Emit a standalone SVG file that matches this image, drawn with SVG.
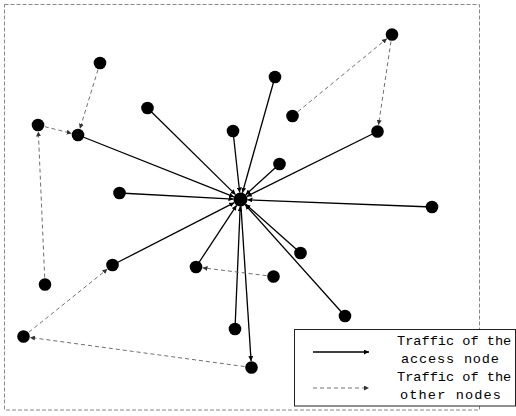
<svg xmlns="http://www.w3.org/2000/svg" width="516" height="416" viewBox="0 0 516 416">
<style>
.node{fill:#000}
.solid{stroke:#000;stroke-width:1.3;fill:none;marker-end:url(#ah)}
.dash{stroke:#707070;stroke-width:1;stroke-dasharray:4 3;fill:none;marker-end:url(#ahd)}
.lg{font-family:"Liberation Mono","DejaVu Sans Mono",monospace;font-size:13.6px;fill:#000}
</style>
<defs>
<marker id="ah" markerUnits="userSpaceOnUse" markerWidth="6" markerHeight="5" refX="5" refY="2.5" orient="auto"><path d="M0,0 L5,2.5 L0,5 z" fill="#000"/></marker>
<marker id="ahd" markerUnits="userSpaceOnUse" markerWidth="6" markerHeight="5" refX="5" refY="2.5" orient="auto"><path d="M0,0 L5,2.5 L0,5 z" fill="#333"/></marker>
</defs>
<rect x="4.5" y="4.5" width="475" height="405.5" fill="none" stroke="#888" stroke-dasharray="4 2"/>
<g id="connectors">
<line class="solid" x1="78" y1="135" x2="234.0" y2="196.9"/>
<line class="solid" x1="147.5" y1="108" x2="235.5" y2="194.6"/>
<line class="solid" x1="275" y1="77" x2="242.4" y2="192.8"/>
<line class="solid" x1="233" y1="131" x2="239.7" y2="192.5"/>
<line class="solid" x1="279.5" y1="164" x2="245.7" y2="194.8"/>
<line class="solid" x1="377.5" y1="131.5" x2="246.8" y2="196.4"/>
<line class="solid" x1="119.5" y1="193" x2="233.5" y2="199.1"/>
<line class="solid" x1="432" y1="207" x2="247.5" y2="199.8"/>
<line class="solid" x1="300.5" y1="253" x2="245.7" y2="204.2"/>
<line class="solid" x1="112.5" y1="265" x2="234.3" y2="202.7"/>
<line class="solid" x1="196" y1="267" x2="236.6" y2="205.3"/>
<line class="solid" x1="345" y1="316" x2="245.2" y2="204.7"/>
<line class="solid" x1="235" y1="329" x2="240.2" y2="206.5"/>
<line class="solid" x1="240.5" y1="199.5" x2="251.1" y2="361.0"/>
<line class="dash" x1="100" y1="63" x2="79.9" y2="128.8"/>
<line class="dash" x1="38" y1="125" x2="71.7" y2="133.4"/>
<line class="dash" x1="45" y1="284.5" x2="38.3" y2="131.5"/>
<line class="dash" x1="292.5" y1="116" x2="387.0" y2="38.6"/>
<line class="dash" x1="392" y1="34.5" x2="378.5" y2="125.1"/>
<line class="dash" x1="273.5" y1="276.5" x2="202.5" y2="267.8"/>
<line class="dash" x1="251.5" y1="367.5" x2="29.9" y2="337.4"/>
<line class="dash" x1="23.5" y1="336.5" x2="107.4" y2="269.1"/>
</g>
<g id="Z"><circle class="node" cx="240.5" cy="199.5" r="7"/></g>
<g id="A"><circle class="node" cx="100" cy="63" r="6.3"/></g>
<g id="B"><circle class="node" cx="38" cy="125" r="6.3"/></g>
<g id="C"><circle class="node" cx="78" cy="135" r="6.3"/></g>
<g id="D"><circle class="node" cx="147.5" cy="108" r="6.3"/></g>
<g id="E"><circle class="node" cx="275" cy="77" r="6.3"/></g>
<g id="F"><circle class="node" cx="233" cy="131" r="6.3"/></g>
<g id="G"><circle class="node" cx="292.5" cy="116" r="6.3"/></g>
<g id="H"><circle class="node" cx="392" cy="34.5" r="6.3"/></g>
<g id="I"><circle class="node" cx="377.5" cy="131.5" r="6.3"/></g>
<g id="J"><circle class="node" cx="279.5" cy="164" r="6.3"/></g>
<g id="K"><circle class="node" cx="119.5" cy="193" r="6.3"/></g>
<g id="L"><circle class="node" cx="432" cy="207" r="6.3"/></g>
<g id="M"><circle class="node" cx="300.5" cy="253" r="6.3"/></g>
<g id="N"><circle class="node" cx="112.5" cy="265" r="6.3"/></g>
<g id="O"><circle class="node" cx="196" cy="267" r="6.3"/></g>
<g id="P"><circle class="node" cx="273.5" cy="276.5" r="6.3"/></g>
<g id="Q"><circle class="node" cx="45" cy="284.5" r="6.3"/></g>
<g id="R"><circle class="node" cx="345" cy="316" r="6.3"/></g>
<g id="S"><circle class="node" cx="235" cy="329" r="6.3"/></g>
<g id="T"><circle class="node" cx="23.5" cy="336.5" r="6.3"/></g>
<g id="U"><circle class="node" cx="251.5" cy="367.5" r="6.3"/></g>
<g id="legend">
<rect x="294.5" y="329.5" width="221" height="76.5" fill="#fff" stroke="#222" stroke-width="1"/>
<line class="solid" x1="313" y1="352" x2="369" y2="352"/>
<line class="dash" x1="313" y1="388" x2="369" y2="388"/>
<text class="lg" x="397" y="345">Traffic of the</text>
<text class="lg" x="401" y="363" textLength="98" lengthAdjust="spacing">access node</text>
<text class="lg" x="397" y="381">Traffic of the</text>
<text class="lg" x="400" y="399" textLength="101" lengthAdjust="spacing">other nodes</text>
</g>
</svg>
